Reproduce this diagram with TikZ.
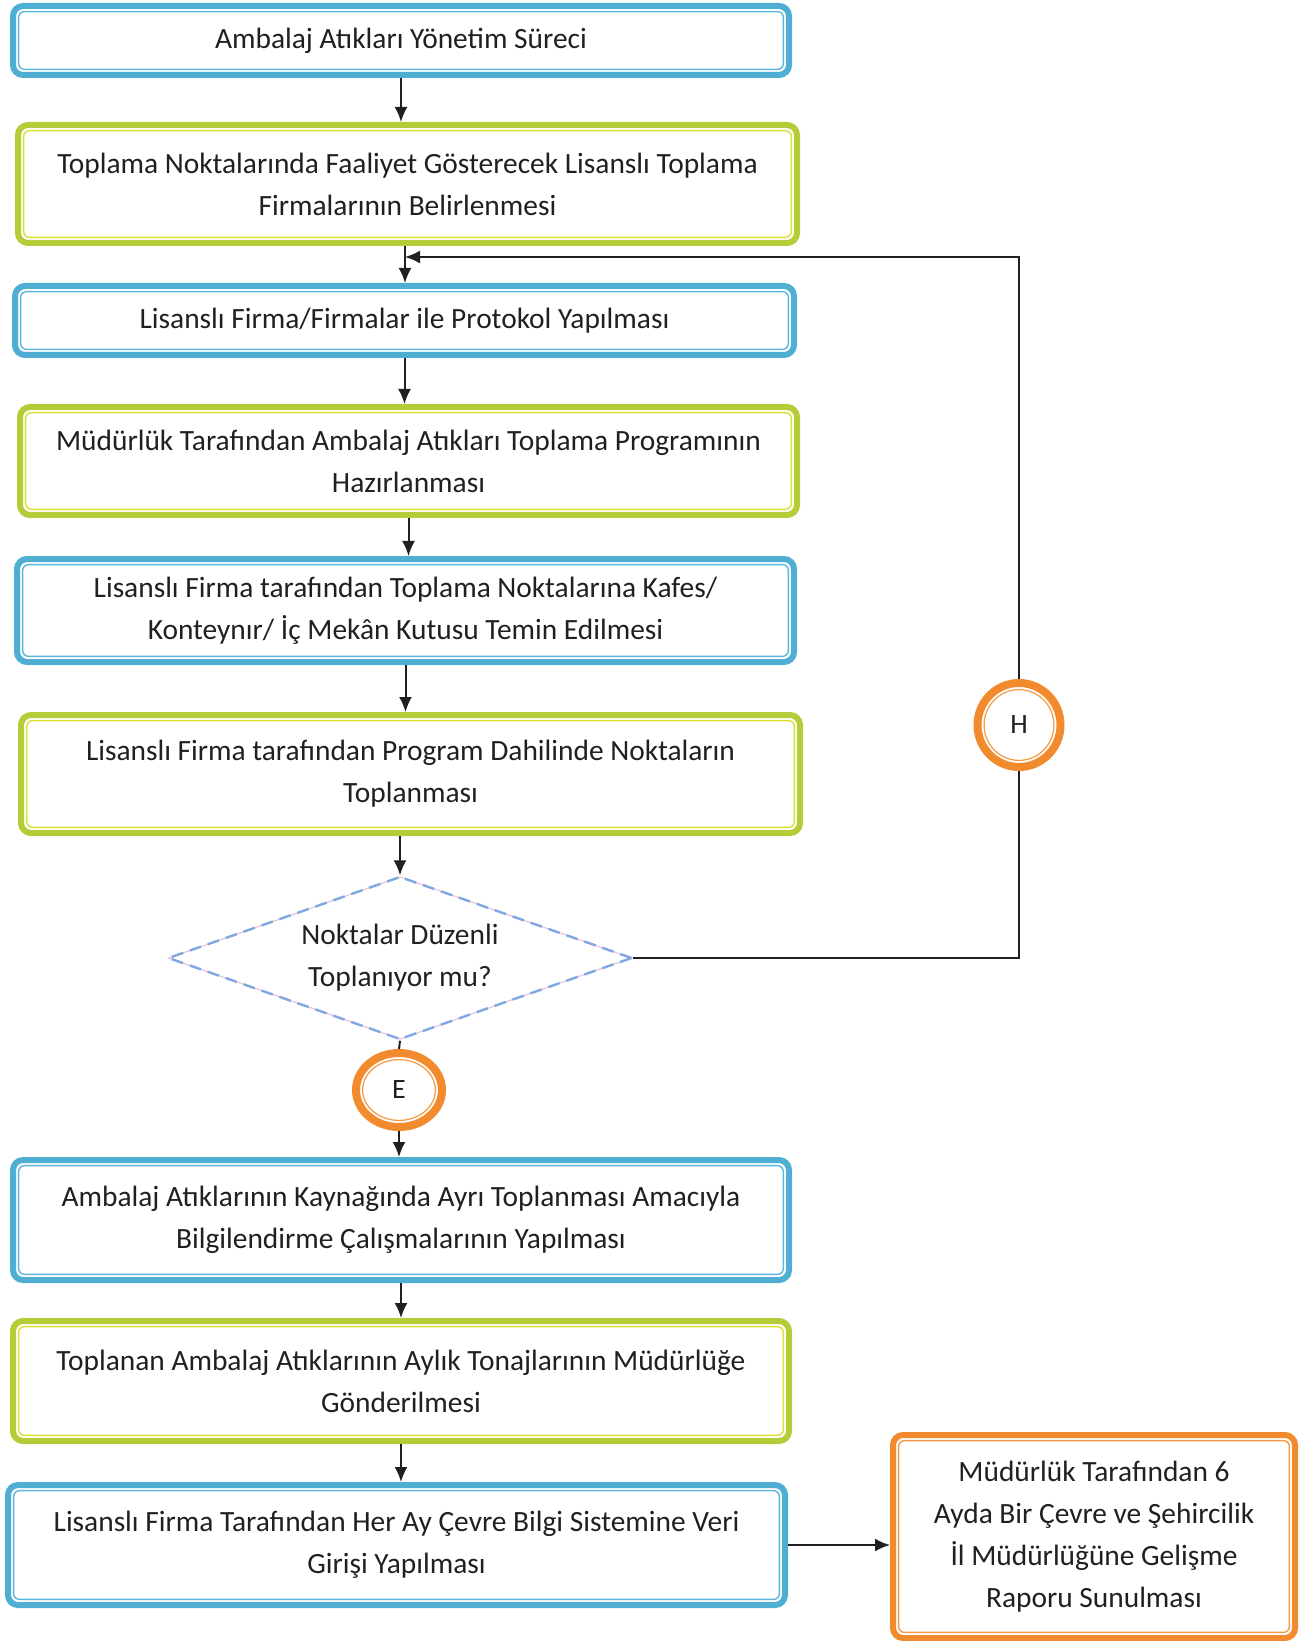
\documentclass[tikz,border=0pt]{standalone}
\usepackage{fontspec}
\setmainfont{Carlito}
\usetikzlibrary{shapes.geometric,arrows.meta}
\definecolor{yazi}{HTML}{231F20}
\definecolor{maviDis}{HTML}{4FAFD3}
\definecolor{maviIc}{HTML}{5AB6DE}
\definecolor{yesilDis}{HTML}{B4CC38}
\definecolor{yesilIc}{HTML}{DCE02C}
\definecolor{turDis}{HTML}{F28A2E}
\definecolor{turIc}{HTML}{F59A42}
\definecolor{kesik}{HTML}{7FA8E2}
\definecolor{pembe}{HTML}{EBC2DC}

\begin{document}
\begin{tikzpicture}[x=0.5pt,y=-0.5pt,
    kutu/.style 2 args={draw=#1, line width=3pt, rounded corners=5pt, fill=white,
      inner sep=0pt, align=center, text=yazi, font=\fontsize{14.7}{21}\selectfont,
      path picture={\draw[#2,line width=0.7pt,rounded corners=3pt]
        ([shift={(2.8pt,2.8pt)}]path picture bounding box.south west) rectangle
        ([shift={(-2.8pt,-2.8pt)}]path picture bounding box.north east);}},
    mavi/.style={kutu={maviDis}{maviIc}},
    yesil/.style={kutu={yesilDis}{yesilIc}},
    turuncu/.style={kutu={turDis}{turIc}},
    daire/.style 2 args={ellipse, draw=turDis, line width=4pt, fill=white, inner sep=0pt,
      minimum width=#1, minimum height=#2, text=yazi, font=\fontsize{14}{16}\selectfont,
      path picture={\draw[turIc,line width=0.6pt] (path picture bounding box.center)
        ellipse [x radius=#1/2-3.3pt, y radius=#2/2-3.3pt];}},
    karar/.style={diamond, aspect=2.85, draw=kesik, line width=1.2pt, dash pattern=on 6pt off 3.5pt,
      minimum width=232pt, minimum height=81.5pt, inner sep=0pt,
      align=center, text=yazi, font=\fontsize{14.7}{21}\selectfont,
      preaction={draw=pembe, solid, line width=0.6pt}},
    ok/.style={-{Latex[length=7.5pt,width=6.5pt]}, line width=1pt, draw=yazi},
    cizgi/.style={line width=1pt, draw=yazi}]
  \useasboundingbox (0,0) rectangle (1311,1641);

  \node[mavi, minimum width=388pt, minimum height=34.5pt] (b1) at (401,40.5)
    {Ambalaj Atıkları Yönetim Süreci};
  \node[yesil, minimum width=389.5pt, minimum height=59pt] (b2) at (407.5,184)
    {Toplama Noktalarında Faaliyet Gösterecek Lisanslı Toplama\\Firmalarının Belirlenmesi};
  \node[mavi, minimum width=389.5pt, minimum height=34.5pt] (b3) at (404.5,320.5)
    {Lisanslı Firma/Firmalar ile Protokol Yapılması};
  \node[yesil, minimum width=388.5pt, minimum height=54pt] (b4) at (408.5,461)
    {Müdürlük Tarafından Ambalaj Atıkları Toplama Programının\\Hazırlanması};
  \node[mavi, minimum width=388.5pt, minimum height=51.5pt] (b5) at (405.5,610.5)
    {Lisanslı Firma tarafından Toplama Noktalarına Kafes/\\Konteynır/ İç Mekân Kutusu Temin Edilmesi};
  \node[yesil, minimum width=389.5pt, minimum height=59pt] (b6) at (410.5,774)
    {Lisanslı Firma tarafından Program Dahilinde Noktaların\\Toplanması};

  \node[karar] (d) at (400,958) {Noktalar Düzenli\\Toplanıyor mu?};
  \node[daire={43pt}{37pt}] (e) at (399,1090) {E};
  \node[daire={41.5pt}{42pt}] (h) at (1019,725) {H};

  \node[mavi, minimum width=388pt, minimum height=60pt] (b7) at (401,1220)
    {Ambalaj Atıklarının Kaynağında Ayrı Toplanması Amacıyla\\Bilgilendirme Çalışmalarının Yapılması};
  \node[yesil, minimum width=388pt, minimum height=60pt] (b8) at (401,1381)
    {Toplanan Ambalaj Atıklarının Aylık Tonajlarının Müdürlüğe\\Gönderilmesi};
  \node[mavi, minimum width=388.5pt, minimum height=60pt] (b9) at (396.5,1545)
    {Lisanslı Firma Tarafından Her Ay Çevre Bilgi Sistemine Veri\\Girişi Yapılması};
  \node[turuncu, minimum width=201pt, minimum height=101.5pt] (b10) at (1094,1536.5)
    {Müdürlük Tarafından 6\\Ayda Bir Çevre ve Şehircilik\\İl Müdürlüğüne Gelişme\\Raporu Sunulması};

  \coordinate (don) at (405,257);

  \draw[ok] (b1.south) -- (b1.south |- b2.north);
  \draw[ok] (b2.south -| don) -- (b3.north -| don);
  \draw[ok] (b3.south) -- (b3.south |- b4.north);
  \draw[ok] (b4.south) -- (b4.south |- b5.north);
  \draw[ok] (b5.south) -- (b5.south |- b6.north);
  \draw[ok] (b6.south -| d.north) -- (d.north);
  \draw[cizgi] (d.south) -- (e.north);
  \draw[ok] (e.south) -- (e.south |- b7.north);
  \draw[ok] (b7.south) -- (b7.south |- b8.north);
  \draw[ok] (b8.south) -- (b8.south |- b9.north);
  \draw[ok] (b9.east) -- (b9.east -| b10.west);
  \draw[cizgi] (d.east) -| (h.south);
  \draw[ok] (h.north) |- (don);
\end{tikzpicture}
\end{document}
